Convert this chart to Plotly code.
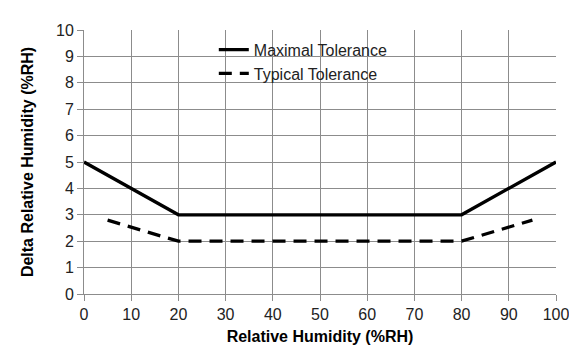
import plotly.graph_objects as go

rh_max = [0, 20, 80, 100]
delta_max = [5, 3, 3, 5]
rh_typ = [5, 20, 80, 95]
delta_typ = [2.8, 2, 2, 2.8]

fig = go.Figure()
fig.add_trace(go.Scatter(x=rh_max, y=delta_max, mode="lines", name="Maximal Tolerance",
                         line=dict(color="black", width=3.3), legendgroup="a"))
fig.add_trace(go.Scatter(x=rh_typ, y=delta_typ, mode="lines", name="Typical Tolerance",
                         line=dict(color="black", width=3.3, dash="13px,8px"), legendgroup="b"))

axis_common = dict(showgrid=True, gridcolor="#8c8c8c", gridwidth=1,
                   showline=True, linecolor="#8c8c8c", linewidth=1,
                   ticks="outside", ticklen=6, tickcolor="#8c8c8c",
                   tickfont=dict(family="Liberation Sans, Arial", size=16, color="#222"),
                   zeroline=False, automargin=False)
# page body has an 8px default margin; compensate in figure size/margins
fig.update_layout(
    width=569, height=354,
    margin=dict(l=76, r=21, t=22, b=68),
    plot_bgcolor="white", paper_bgcolor="white",
    font=dict(family="Liberation Sans, Arial", size=16, color="black"),
    xaxis=dict(axis_common, range=[0, 100], dtick=10,
               title=dict(text="<b>Relative Humidity (%RH)</b>", font=dict(size=16), standoff=8)),
    yaxis=dict(axis_common, range=[0, 10], dtick=1,
               title=dict(text="<b>Delta Relative Humidity (%RH)</b>", font=dict(size=16), standoff=18)),
    legend=dict(x=0.275, y=0.99, xanchor="left", yanchor="top", bgcolor="rgba(0,0,0,0)",
                font=dict(size=16, color="#222"), tracegroupgap=0, traceorder="grouped"),
    showlegend=True,
)
fig.write_html("out.html")
